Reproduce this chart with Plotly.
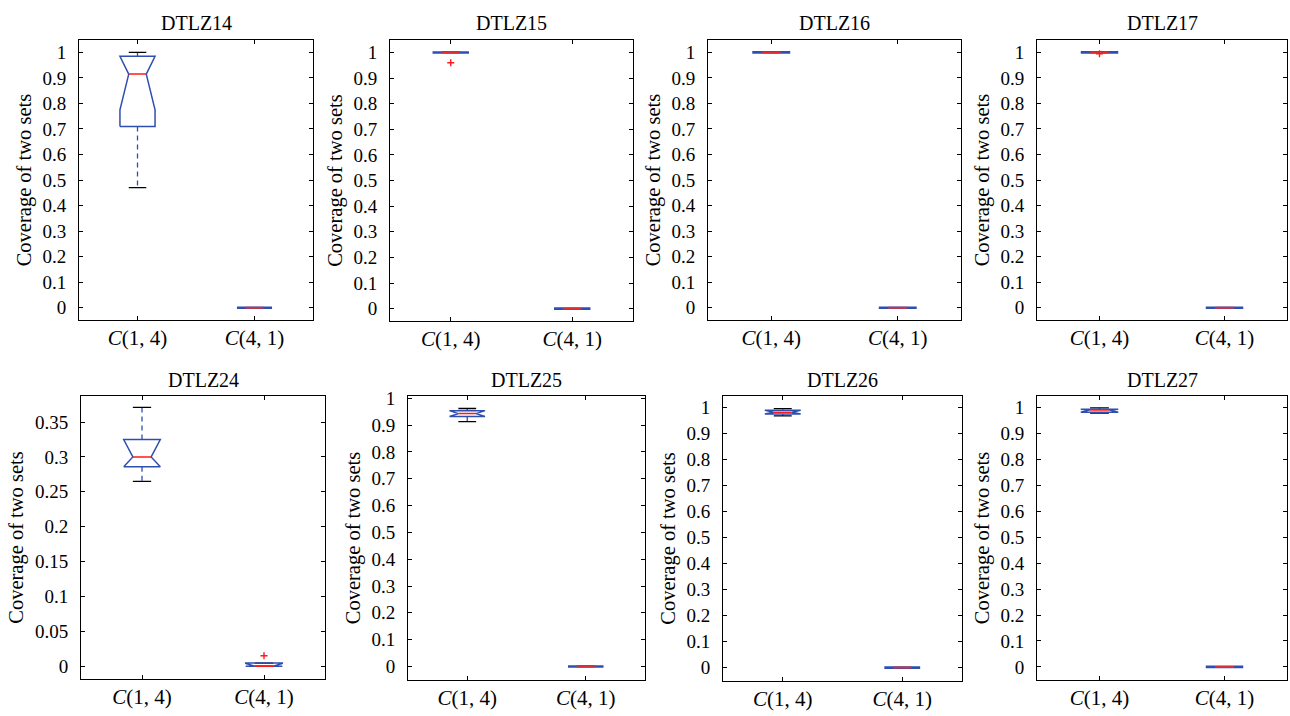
import plotly.graph_objects as go

W, H = 1290, 716

# ---------------- data ----------------
titles = ["DTLZ14", "DTLZ15", "DTLZ16", "DTLZ17", "DTLZ24", "DTLZ25", "DTLZ26", "DTLZ27"]
group_labels = ["<i>C</i>(1, 4)", "<i>C</i>(4, 1)"]
y_title = "Coverage of two sets"

# C(1, 4) box statistics per problem
c14_lower = [0.47, 1.0, 1.0, 1.0, 0.265, 0.913, 0.968, 0.979]
c14_q1 = [0.71, 1.0, 1.0, 1.0, 0.286, 0.932, 0.975, 0.982]
c14_median = [0.915, 1.0, 1.0, 1.0, 0.300, 0.943, 0.982, 0.991]
c14_q3 = [0.985, 1.0, 1.0, 1.0, 0.325, 0.954, 0.990, 0.9935]
c14_upper = [1.0, 1.0, 1.0, 1.0, 0.371, 0.962, 0.996, 0.999]
c14_notch = [0.14, 0.0, 0.0, 0.0, 0.03, 0.02, 0.012, 0.012]
c14_outliers = [[], [0.96], [], [0.995], [], [], [], []]

# C(4, 1) box statistics per problem
c41_lower = [0.0, 0.0, 0.0, 0.0, 0.0, 0.0, 0.0, 0.0]
c41_q1 = [0.0, 0.0, 0.0, 0.0, 0.0, 0.0, 0.0, 0.0]
c41_median = [0.0, 0.0, 0.0, 0.0, 0.0, 0.0, 0.0, 0.0]
c41_q3 = [0.0, 0.0, 0.0, 0.0, 0.0045, 0.0, 0.0, 0.0]
c41_upper = [0.0, 0.0, 0.0, 0.0, 0.0045, 0.0, 0.0, 0.0]
c41_notch = [0.0, 0.0, 0.0, 0.0, 0.004, 0.0, 0.0, 0.0]
c41_outliers = [[], [], [], [], [0.015], [], [], []]

ticks_unit = [0, 0.1, 0.2, 0.3, 0.4, 0.5, 0.6, 0.7, 0.8, 0.9, 1]
ticks_unit_text = ["0", "0.1", "0.2", "0.3", "0.4", "0.5", "0.6", "0.7", "0.8", "0.9", "1"]
ticks_small = [0, 0.05, 0.1, 0.15, 0.2, 0.25, 0.3, 0.35]
ticks_small_text = ["0", "0.05", "0.1", "0.15", "0.2", "0.25", "0.3", "0.35"]

# ---------------- layout (pixels) ----------------
panels = [  # left, right, top, bottom
    (79, 313, 32, 316), (390, 633, 32, 317), (708, 961, 32, 316), (1037, 1287, 32, 316),
    (81, 325, 392, 679), (408, 645, 392, 680), (723, 962, 392, 681), (1037, 1287, 392, 680),
]
yranges = [(-0.05, 1.05)] * 4 + [(-0.019, 0.388), (-0.052, 1.01), (-0.053, 1.046), (-0.052, 1.046)]

BLUE = "#2f4fb0"
RED = "#ff1a1a"
FONT = "Liberation Serif, Times New Roman, serif"
HALF_W = 0.15
NOTCH_W = 0.075
CAP_W = 0.075

fig = go.Figure()


def add_box(ax, pos, lo, q1, med, q3, hi, notch, outliers):
    xa, ya = "x" + ax, "y" + ax
    flat = (q3 - q1) < 1e-9
    # whiskers (dashed)
    fig.add_trace(go.Scatter(x=[pos, pos, None, pos, pos], y=[q3, hi, None, q1, lo],
                             mode="lines", line=dict(color=BLUE, width=1.3, dash="5px,4px"),
                             xaxis=xa, yaxis=ya, hoverinfo="skip"))
    # whisker caps
    fig.add_trace(go.Scatter(x=[pos - CAP_W, pos + CAP_W, None, pos - CAP_W, pos + CAP_W],
                             y=[hi, hi, None, lo, lo], mode="lines",
                             line=dict(color="black", width=1.3),
                             xaxis=xa, yaxis=ya, hoverinfo="skip"))
    # notched box
    nlo = max(q1, med - notch)
    nhi = min(q3, med + notch)
    xs = [pos - HALF_W, pos - HALF_W, pos - NOTCH_W, pos - HALF_W, pos - HALF_W,
          pos + HALF_W, pos + HALF_W, pos + NOTCH_W, pos + HALF_W, pos + HALF_W, pos - HALF_W]
    ys = [q1, nlo, med, nhi, q3, q3, nhi, med, nlo, q1, q1]
    fig.add_trace(go.Scatter(x=xs, y=ys, mode="lines",
                             line=dict(color=BLUE, width=2.6 if flat else 1.5),
                             xaxis=xa, yaxis=ya, hoverinfo="skip"))
    # median
    fig.add_trace(go.Scatter(x=[pos - NOTCH_W, pos + NOTCH_W], y=[med, med], mode="lines",
                             line=dict(color="#d8303a" if flat else RED, width=2.0 if flat else 1.5),
                             xaxis=xa, yaxis=ya, hoverinfo="skip"))
    # outliers
    if outliers:
        fig.add_trace(go.Scatter(x=[pos] * len(outliers), y=outliers, mode="markers",
                                 marker=dict(symbol="cross-thin", size=5,
                                             line=dict(color=RED, width=1.4)),
                                 xaxis=xa, yaxis=ya, hoverinfo="skip"))


for i in range(8):
    ax = "" if i == 0 else str(i + 1)
    add_box(ax, 1, c14_lower[i], c14_q1[i], c14_median[i], c14_q3[i], c14_upper[i],
            c14_notch[i], c14_outliers[i])
    add_box(ax, 2, c41_lower[i], c41_q1[i], c41_median[i], c41_q3[i], c41_upper[i],
            c41_notch[i], c41_outliers[i])

layout = dict(width=W, height=H, margin=dict(l=0, r=0, t=0, b=0),
              paper_bgcolor="white", plot_bgcolor="white", showlegend=False,
              font=dict(family=FONT, color="black"))
annotations = []
for i, (l, r, t, b) in enumerate(panels):
    sfx = "" if i == 0 else str(i + 1)
    small = (i == 4)
    layout["xaxis" + sfx] = dict(
        domain=[l / W, r / W], anchor="y" + sfx, range=[0.5, 2.5],
        tickvals=[1, 2], ticktext=group_labels, ticks="inside", ticklen=4,
        tickcolor="black", showline=True, linecolor="black", linewidth=1, mirror="allticks",
        showgrid=False, zeroline=False, tickfont=dict(family=FONT, size=21),
        ticklabelstandoff=-2, fixedrange=True)
    layout["yaxis" + sfx] = dict(
        domain=[1 - b / H, 1 - t / H], anchor="x" + sfx, range=list(yranges[i]),
        tickvals=ticks_small if small else ticks_unit,
        ticktext=ticks_small_text if small else ticks_unit_text,
        ticks="inside", ticklen=4, tickcolor="black", showline=True, linecolor="black",
        linewidth=1, mirror="allticks", showgrid=False, zeroline=False,
        tickfont=dict(family=FONT, size=19), ticklabelstandoff=8,
        title=dict(text=y_title, font=dict(family=FONT, size=20.5), standoff=5),
        fixedrange=True)
    title_y = 15 if i < 4 else 376
    annotations.append(dict(text=titles[i], x=(l + r) / 2 / W, y=1 - title_y / H,
                            xref="paper", yref="paper", xanchor="center", yanchor="middle",
                            showarrow=False, font=dict(family=FONT, size=20)))
layout["annotations"] = annotations
fig.update_layout(**layout)
fig.write_html("out.html")
